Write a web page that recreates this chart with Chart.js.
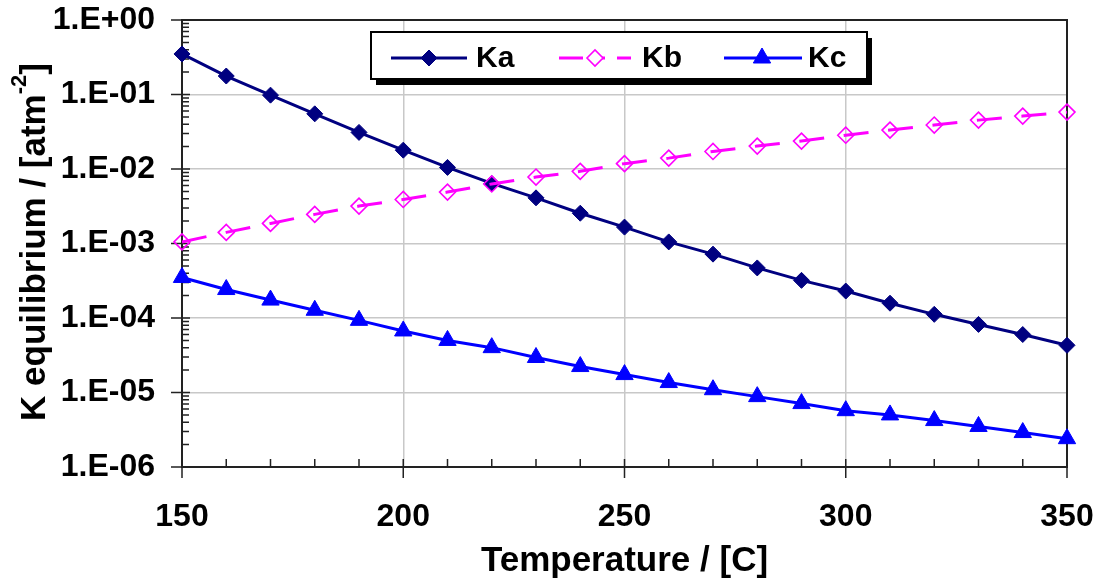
<!DOCTYPE html>
<html>
<head>
<meta charset="utf-8">
<script src="https://cdn.jsdelivr.net/npm/chart.js@4/dist/chart.umd.min.js"></script>
<style>
  body { margin: 0; background: #fff; }
  #wrap { width: 1102px; height: 580px; position: relative; }
</style>
</head>
<body>
<div id="wrap"><canvas id="kChart"></canvas></div>
<script>
// temperatures in C
const temps = [150, 160, 170, 180, 190, 200, 210, 220, 230, 240, 250,
               260, 270, 280, 290, 300, 310, 320, 330, 340, 350];
const ka = [0.35, 0.177, 0.098, 0.055, 0.031, 0.0179, 0.0105, 0.0064, 0.0041, 0.00255, 0.00166,
            0.00105, 0.00072, 0.00047, 0.00032, 0.00023, 0.000158, 0.000112, 8.2e-5, 6.0e-5, 4.3e-5];
const kb = [1.05e-3, 1.41e-3, 1.86e-3, 2.46e-3, 3.18e-3, 3.9e-3, 4.9e-3, 6.3e-3, 7.8e-3, 9.3e-3, 0.0118,
            0.014, 0.0172, 0.0203, 0.0237, 0.0284, 0.0333, 0.0389, 0.0453, 0.0513, 0.058];
const kc = [3.5e-4, 2.41e-4, 1.74e-4, 1.27e-4, 9.3e-5, 6.7e-5, 5.0e-5, 4.0e-5, 2.95e-5, 2.23e-5, 1.74e-5,
            1.36e-5, 1.09e-5, 8.8e-6, 7.1e-6, 5.7e-6, 5.0e-6, 4.2e-6, 3.5e-6, 2.9e-6, 2.4e-6];
const seriesNames = ['Ka', 'Kb', 'Kc'];
const yTicks = [1, 1e-1, 1e-2, 1e-3, 1e-4, 1e-5, 1e-6];
const yTickLabels = ['1.E+00', '1.E-01', '1.E-02', '1.E-03', '1.E-04', '1.E-05', '1.E-06'];
const xTicks = [150, 200, 250, 300, 350];

const FONT = "'Liberation Sans', Arial, sans-serif";

const pts = arr => temps.map((t, i) => ({ x: t, y: arr[i] }));

const datasets = [
  {
    label: seriesNames[0], data: pts(ka), order: 2,
    borderColor: '#000080', backgroundColor: '#000080', borderWidth: 3,
    pointStyle: 'rectRot', pointRadius: 8, pointBorderWidth: 1,
    pointBackgroundColor: '#000080', pointBorderColor: '#000080'
  },
  {
    label: seriesNames[1], data: pts(kb), order: 1,
    borderColor: '#ff00ff', backgroundColor: 'rgba(0,0,0,0)', borderWidth: 3, borderDash: [25, 19.7],
    pointStyle: 'rectRot', pointRadius: 8, pointBorderWidth: 1.6,
    pointBackgroundColor: 'rgba(0,0,0,0)', pointBorderColor: '#ff00ff',
    legendDash: [24, 12, 10, 12]
  },
  {
    label: seriesNames[2], data: pts(kc), order: 3,
    borderColor: '#0000ff', backgroundColor: '#0000ff', borderWidth: 3,
    pointStyle: 'triangle', pointRadius: 10, pointBorderWidth: 1,
    pointBackgroundColor: '#0000ff', pointBorderColor: '#0000ff'
  }
];

// no automatic edge padding, the plot box is fixed
const noPad = s => { s.paddingTop = 0; s.paddingBottom = 0; s.paddingLeft = 0; s.paddingRight = 0; };

// frame, inside/outside tick marks, titles and the boxed legend
const decorations = {
  id: 'decorations',
  beforeDatasetsDraw(chart) {
    const { ctx, chartArea: a, scales: { x, y } } = chart;
    ctx.save();
    ctx.strokeStyle = '#222';
    ctx.lineWidth = 1.5;
    ctx.beginPath();
    yTicks.forEach(v => {
      const py = y.getPixelForValue(v);
      ctx.moveTo(a.left - 11, py);
      ctx.lineTo(a.left + 8, py);
      for (let m = 2; m < 10; m++) {
        if (v * m >= 1) break;
        const my = y.getPixelForValue(v * m);
        ctx.moveTo(a.left, my);
        ctx.lineTo(a.left + 7, my);
      }
    });
    temps.forEach(t => {
      const px = x.getPixelForValue(t);
      const major = xTicks.includes(t);
      ctx.moveTo(px, a.bottom + (major ? 11 : 0));
      ctx.lineTo(px, a.bottom - 8);
    });
    ctx.stroke();
    ctx.lineWidth = 2;
    ctx.strokeRect(a.left, a.top, a.right - a.left, a.bottom - a.top);
    ctx.restore();
  },
  afterDraw(chart) {
    const { ctx, chartArea: a } = chart;
    ctx.save();
    ctx.fillStyle = '#000';

    // x title
    ctx.font = 'bold 35px ' + FONT;
    ctx.textAlign = 'center';
    ctx.textBaseline = 'alphabetic';
    ctx.fillText('Temperature / [C]', (a.left + a.right) / 2, 571);

    // y title with superscript
    const main = 'K equilibrium / [atm', sup = '-2', end = ']';
    const bigF = 'bold 35px ' + FONT, supF = 'bold 22px ' + FONT;
    ctx.font = bigF; const w1 = ctx.measureText(main).width, w3 = ctx.measureText(end).width;
    ctx.font = supF; const w2 = ctx.measureText(sup).width;
    const total = w1 + w2 + w3;
    ctx.translate(45, 242);
    ctx.rotate(-Math.PI / 2);
    ctx.textAlign = 'left';
    let cx = -total / 2;
    ctx.font = bigF; ctx.fillText(main, cx, 0); cx += w1;
    ctx.font = supF; ctx.fillText(sup, cx, -19); cx += w2;
    ctx.font = bigF; ctx.fillText(end, cx, 0);
    ctx.setTransform(1, 0, 0, 1, 0, 0);

    // legend box with shadow
    const L = 371, T = 32, W = 496, H = 47;
    ctx.fillStyle = '#000';
    ctx.fillRect(L + 5, T + 6, W, H);
    ctx.fillStyle = '#fff';
    ctx.fillRect(L, T, W, H);
    ctx.strokeStyle = '#000';
    ctx.lineWidth = 2;
    ctx.strokeRect(L, T, W, H);

    const items = [
      { x0: 391, x1: 467, mx: 429, tx: 476 },
      { x0: 559, x1: 631, mx: 595, tx: 642 },
      { x0: 724, x1: 802, mx: 762, tx: 808 }
    ];
    const ly = 58;
    chart.data.datasets.forEach((ds, i) => {
      const it = items[i];
      ctx.strokeStyle = ds.borderColor;
      ctx.lineWidth = ds.borderWidth;
      ctx.setLineDash(ds.legendDash || []);
      ctx.beginPath();
      ctx.moveTo(it.x0, ly);
      ctx.lineTo(it.x1, ly);
      ctx.stroke();
      ctx.setLineDash([]);
      ctx.fillStyle = ds.pointBackgroundColor === 'rgba(0,0,0,0)' ? '#fff' : ds.pointBackgroundColor;
      ctx.strokeStyle = ds.pointBorderColor;
      ctx.lineWidth = ds.pointBorderWidth;
      Chart.helpers.drawPoint(ctx, {
        pointStyle: ds.pointStyle, radius: ds.pointRadius, rotation: 0,
        borderWidth: ds.pointBorderWidth
      }, it.mx, ly);
      ctx.fillStyle = '#000';
      ctx.font = 'bold 30px ' + FONT;
      ctx.textAlign = 'left';
      ctx.textBaseline = 'middle';
      ctx.fillText(ds.label, it.tx, ly + 1);
    });
    ctx.restore();
  }
};

new Chart(document.getElementById('kChart'), {
  type: 'line',
  data: { datasets },
  options: {
    responsive: true,
    maintainAspectRatio: false,
    animation: false,
    layout: { padding: { left: 0, right: 35, top: 20, bottom: 0 } },
    elements: { line: { tension: 0 } },
    datasets: { line: { clip: 20 } },
    plugins: { legend: { display: false }, tooltip: { enabled: false } },
    scales: {
      x: {
        type: 'linear', min: 150, max: 350,
        afterFit: s => { s.height = 113; noPad(s); },
        afterBuildTicks: s => { s.ticks = xTicks.map(v => ({ value: v })); },
        grid: { color: '#c8c8c8', lineWidth: 1.5, drawTicks: false },
        border: { display: false },
        ticks: { padding: 31, color: '#000', font: { family: FONT, size: 32, weight: 'bold' }, maxRotation: 0 }
      },
      y: {
        type: 'logarithmic', min: 1e-6, max: 1,
        afterFit: s => { s.width = 182; noPad(s); },
        afterBuildTicks: s => { s.ticks = yTicks.map(v => ({ value: v })); },
        grid: { color: '#c8c8c8', lineWidth: 1.5, drawTicks: false },
        border: { display: false },
        ticks: {
          padding: 27, color: '#000', font: { family: FONT, size: 32, weight: 'bold' },
          callback: v => yTickLabels[yTicks.findIndex(t => Math.abs(Math.log10(t) - Math.log10(v)) < 1e-6)]
        }
      }
    }
  },
  plugins: [decorations]
});
</script>
</body>
</html>
